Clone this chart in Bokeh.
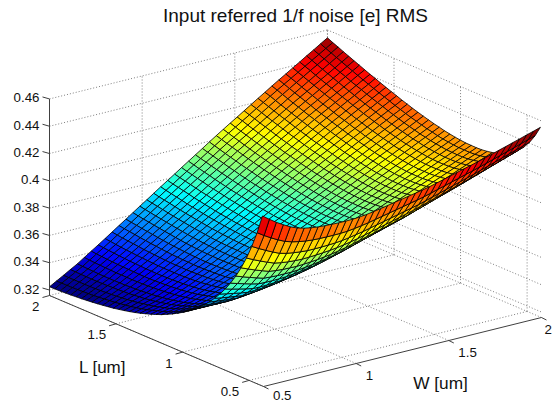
from bokeh.plotting import figure
from bokeh.models import Range1d, ColumnDataSource
from bokeh.core.properties import value
from bokeh.embed import file_html
from bokeh.resources import INLINE

TITLE = "Input referred 1/f noise [e] RMS"
X_LABEL = "W [um]"
Y_LABEL = "L [um]"
W_TICKS = [0.5, 1, 1.5, 2]
W_TICK_LABELS = ["0.5", "1", "1.5", "2"]
L_TICKS = [0.5, 1, 1.5, 2]
L_TICK_LABELS = ["0.5", "1", "1.5", "2"]
Z_TICKS = [0.32, 0.34, 0.36, 0.38, 0.40, 0.42, 0.44, 0.46]
Z_TICK_LABELS = ["0.32", "0.34", "0.36", "0.38", "0.4", "0.42", "0.44", "0.46"]
W_LIMITS = [0.5, 2.0]
L_LIMITS = [0.392, 2.0]
Z_LIMITS = [0.316, 0.46]

W_UM = [0.5, 0.5375, 0.575, 0.6125, 0.65, 0.6875, 0.725, 0.7625, 0.8, 0.8375, 0.875, 0.9125, 0.95, 0.9875,
        1.025, 1.0625, 1.1, 1.1375, 1.175, 1.2125, 1.25, 1.2875, 1.325, 1.3625, 1.4, 1.4375, 1.475, 1.5125,
        1.55, 1.5875, 1.625, 1.6625, 1.7, 1.7375, 1.775, 1.8125, 1.85, 1.8875, 1.925, 1.9625, 2.0]
L_UM = [0.40, 0.44, 0.48, 0.52, 0.56, 0.60, 0.64, 0.68, 0.72, 0.76, 0.80, 0.84, 0.88, 0.92, 0.96, 1.00,
        1.04, 1.08, 1.12, 1.16, 1.20, 1.24, 1.28, 1.32, 1.36, 1.40, 1.44, 1.48, 1.52, 1.56, 1.60, 1.64,
        1.68, 1.72, 1.76, 1.80, 1.84, 1.88, 1.92, 1.96, 2.00]

# Noise in units of 1e-4 e RMS; one row per L_UM entry, one column per W_UM entry.
# Hand-estimated from the surface's edges and colour bands in the picture.
NOISE_E4 = [
[4406,4369,4334,4304,4276,4255,4241,4231,4225,4221,4219,4217,4217,4218,4222,4228,4236,4245,4255,4265,4275,4285,4295,4305,4316,4330,4343,4357,4371,4385,4398,4412,4426,4441,4457,4472,4488,4503,4519,4534,4550],
[4267,4234,4204,4177,4153,4137,4126,4118,4113,4111,4110,4110,4111,4114,4121,4129,4138,4149,4160,4171,4182,4193,4204,4215,4227,4241,4256,4270,4285,4299,4314,4328,4343,4359,4375,4391,4407,4423,4440,4456,4472],
[4150,4122,4096,4071,4049,4036,4028,4022,4018,4018,4019,4021,4024,4029,4037,4047,4057,4069,4081,4093,4105,4117,4129,4141,4153,4168,4184,4199,4214,4230,4245,4261,4276,4293,4309,4326,4343,4359,4376,4392,4409],
[4048,4024,4001,3980,3961,3951,3945,3941,3939,3941,3944,3948,3953,3960,3968,3978,3989,4002,4015,4028,4041,4054,4067,4081,4094,4110,4126,4142,4158,4174,4190,4206,4222,4239,4256,4273,4290,4308,4325,4342,4359],
[3960,3939,3919,3901,3884,3877,3873,3871,3870,3873,3877,3882,3889,3897,3907,3918,3931,3945,3959,3973,3987,4001,4016,4030,4044,4061,4077,4094,4111,4128,4144,4161,4178,4196,4213,4231,4249,4266,4284,4301,4319],
[3883,3865,3848,3832,3817,3813,3811,3811,3811,3815,3821,3828,3836,3846,3857,3870,3883,3898,3913,3928,3943,3958,3973,3988,4003,4020,4038,4055,4073,4090,4107,4125,4142,4160,4178,4196,4215,4233,4251,4269,4287],
[3815,3799,3785,3771,3759,3757,3757,3758,3761,3767,3774,3782,3791,3802,3815,3828,3842,3858,3874,3890,3905,3921,3937,3952,3968,3986,4004,4022,4040,4058,4076,4094,4112,4131,4149,4168,4187,4206,4225,4243,4262],
[3755,3742,3730,3718,3708,3707,3709,3712,3716,3723,3731,3740,3751,3763,3777,3791,3807,3824,3840,3857,3874,3890,3907,3923,3940,3959,3977,3996,4014,4033,4052,4070,4089,4108,4127,4146,4165,4184,4203,4222,4241],
[3701,3691,3681,3672,3664,3665,3668,3673,3678,3686,3695,3705,3717,3730,3745,3760,3777,3794,3812,3829,3847,3864,3881,3899,3916,3935,3954,3973,3993,4012,4031,4050,4069,4089,4108,4128,4148,4167,4187,4206,4226],
[3654,3645,3637,3630,3623,3626,3630,3636,3644,3653,3663,3674,3687,3701,3717,3733,3751,3769,3787,3805,3823,3841,3860,3878,3896,3916,3936,3956,3975,3995,4015,4035,4055,4075,4095,4115,4135,4156,4176,4196,4216],
[3610,3604,3598,3593,3588,3592,3598,3605,3614,3624,3635,3648,3662,3677,3694,3712,3731,3750,3768,3787,3806,3825,3843,3862,3881,3901,3921,3942,3962,3982,4002,4023,4043,4064,4084,4105,4126,4146,4167,4187,4208],
[3571,3567,3563,3560,3557,3562,3569,3578,3588,3599,3611,3624,3639,3656,3674,3693,3712,3732,3751,3771,3790,3810,3829,3849,3868,3889,3910,3931,3952,3972,3993,4014,4035,4056,4077,4098,4119,4140,4161,4182,4203],
[3537,3534,3532,3530,3529,3535,3543,3554,3565,3577,3590,3604,3620,3638,3657,3676,3696,3716,3736,3757,3777,3797,3817,3838,3858,3880,3901,3923,3944,3966,3987,4009,4030,4051,4073,4094,4116,4137,4158,4180,4201],
[3506,3505,3504,3504,3504,3511,3521,3533,3546,3559,3573,3588,3605,3624,3644,3664,3684,3705,3726,3747,3768,3788,3809,3830,3851,3873,3895,3917,3939,3960,3982,4004,4026,4048,4070,4092,4114,4136,4158,4180,4202],
[3477,3478,3478,3480,3481,3490,3501,3514,3528,3542,3557,3573,3591,3611,3631,3652,3674,3696,3717,3739,3760,3782,3803,3825,3846,3868,3891,3913,3935,3958,3980,4003,4025,4047,4070,4092,4114,4136,4159,4181,4203],
[3451,3453,3456,3459,3462,3472,3484,3498,3513,3528,3544,3561,3580,3600,3621,3643,3665,3687,3709,3731,3754,3776,3798,3820,3842,3865,3888,3911,3934,3957,3979,4002,4025,4048,4070,4093,4116,4139,4161,4184,4207],
[3428,3431,3435,3440,3444,3456,3469,3484,3500,3516,3533,3551,3570,3591,3613,3636,3659,3682,3704,3727,3749,3772,3795,3817,3840,3863,3887,3910,3933,3957,3980,4003,4027,4050,4073,4096,4119,4143,4166,4189,4212],
[3406,3411,3417,3423,3429,3441,3456,3471,3488,3505,3523,3541,3561,3583,3606,3629,3653,3676,3700,3723,3746,3770,3793,3817,3840,3864,3888,3911,3935,3959,3983,4006,4030,4054,4077,4101,4125,4148,4172,4195,4219],
[3387,3393,3400,3408,3415,3429,3445,3461,3479,3497,3516,3535,3556,3579,3602,3626,3650,3674,3698,3721,3745,3769,3793,3816,3840,3864,3889,3913,3938,3962,3986,4011,4035,4059,4083,4107,4131,4154,4178,4202,4226],
[3368,3376,3385,3393,3402,3417,3434,3451,3470,3489,3508,3528,3550,3573,3598,3622,3647,3671,3696,3720,3745,3769,3794,3818,3843,3868,3892,3917,3941,3966,3991,4015,4040,4065,4089,4114,4138,4163,4187,4212,4236],
[3353,3362,3371,3381,3390,3406,3424,3443,3463,3482,3502,3523,3545,3570,3595,3621,3646,3671,3696,3721,3746,3771,3796,3821,3846,3871,3896,3921,3947,3972,3997,4022,4047,4072,4096,4121,4146,4171,4195,4220,4245],
[3338,3349,3359,3370,3381,3398,3417,3436,3457,3478,3499,3521,3544,3569,3594,3620,3646,3671,3697,3722,3748,3773,3799,3824,3850,3876,3901,3927,3952,3978,4004,4029,4055,4080,4105,4130,4155,4181,4206,4231,4256],
[3325,3337,3349,3361,3373,3391,3411,3431,3452,3474,3496,3519,3543,3569,3594,3620,3646,3672,3698,3724,3750,3777,3803,3829,3855,3881,3907,3933,3959,3985,4011,4037,4063,4089,4114,4140,4165,4191,4216,4242,4267],
[3312,3325,3338,3352,3365,3385,3405,3426,3448,3471,3494,3517,3542,3568,3595,3621,3648,3675,3701,3728,3754,3781,3807,3834,3860,3887,3913,3940,3966,3993,4019,4046,4072,4098,4124,4150,4176,4201,4227,4253,4279],
[3301,3315,3330,3344,3359,3379,3401,3422,3445,3469,3492,3516,3542,3569,3596,3623,3650,3677,3704,3731,3758,3786,3813,3840,3867,3894,3921,3948,3975,4002,4029,4056,4083,4109,4135,4161,4187,4213,4239,4265,4291],
[3291,3306,3322,3337,3353,3375,3397,3420,3443,3467,3491,3516,3543,3570,3598,3625,3653,3681,3708,3736,3764,3791,3819,3846,3874,3901,3928,3956,3983,4010,4037,4065,4092,4119,4145,4172,4199,4225,4252,4278,4305],
[3282,3298,3315,3331,3348,3371,3394,3417,3441,3466,3491,3517,3544,3572,3600,3629,3657,3685,3713,3741,3770,3798,3826,3854,3882,3910,3938,3965,3993,4021,4049,4076,4104,4131,4158,4184,4211,4238,4265,4291,4318],
[3274,3292,3309,3327,3345,3368,3392,3416,3441,3467,3493,3519,3546,3575,3603,3632,3661,3690,3718,3747,3775,3804,3833,3861,3890,3918,3946,3974,4003,4031,4059,4087,4115,4142,4169,4197,4224,4251,4279,4306,4333],
[3266,3285,3303,3322,3341,3365,3390,3415,3441,3467,3494,3521,3549,3578,3607,3637,3666,3695,3724,3753,3782,3811,3840,3869,3898,3927,3955,3984,4013,4041,4070,4098,4127,4155,4182,4209,4237,4264,4292,4320,4347],
[3260,3279,3299,3318,3338,3363,3388,3414,3441,3468,3496,3524,3552,3582,3612,3641,3671,3701,3730,3760,3790,3819,3849,3878,3908,3937,3966,3995,4023,4052,4081,4110,4139,4167,4195,4223,4251,4278,4306,4334,4362],
[3254,3275,3295,3316,3337,3362,3388,3415,3442,3470,3498,3527,3556,3586,3617,3647,3677,3707,3737,3767,3797,3827,3857,3887,3917,3946,3975,4005,4034,4063,4092,4122,4151,4179,4207,4236,4264,4292,4320,4349,4377],
[3249,3270,3291,3313,3334,3361,3388,3416,3444,3473,3502,3531,3561,3591,3622,3653,3683,3713,3744,3774,3805,3835,3865,3896,3926,3956,3986,4015,4045,4075,4105,4134,4164,4193,4221,4250,4279,4307,4336,4364,4393],
[3244,3267,3289,3312,3334,3362,3390,3418,3446,3476,3505,3535,3566,3597,3628,3659,3690,3721,3752,3783,3813,3844,3875,3906,3937,3967,3997,4027,4057,4087,4117,4147,4177,4206,4235,4264,4293,4321,4350,4379,4408],
[3240,3263,3286,3310,3333,3362,3391,3420,3449,3479,3510,3540,3572,3603,3634,3666,3697,3728,3759,3791,3822,3853,3884,3916,3947,3977,4008,4038,4069,4099,4129,4160,4190,4219,4248,4278,4307,4336,4365,4395,4424],
[3236,3260,3284,3309,3333,3362,3392,3421,3451,3482,3513,3545,3577,3609,3640,3672,3704,3736,3768,3799,3831,3863,3895,3926,3958,3989,4020,4050,4081,4112,4143,4173,4204,4234,4263,4293,4323,4352,4382,4411,4441],
[3233,3258,3283,3308,3333,3364,3394,3425,3455,3487,3519,3551,3583,3615,3647,3679,3711,3743,3775,3808,3840,3872,3904,3937,3969,4000,4031,4062,4094,4125,4156,4187,4218,4248,4278,4308,4338,4367,4397,4427,4457],
[3230,3256,3282,3308,3334,3365,3396,3427,3458,3491,3523,3556,3589,3622,3654,3687,3720,3753,3785,3818,3851,3883,3916,3948,3981,4012,4044,4075,4107,4138,4169,4201,4232,4262,4292,4323,4353,4383,4413,4444,4474],
[3228,3255,3282,3309,3336,3368,3399,3431,3462,3495,3529,3562,3595,3628,3662,3695,3728,3761,3794,3827,3860,3893,3926,3959,3992,4024,4056,4087,4119,4151,4183,4214,4246,4277,4307,4338,4368,4399,4429,4460,4490],
[3226,3254,3282,3309,3337,3369,3402,3434,3466,3500,3534,3568,3601,3635,3669,3702,3736,3770,3803,3837,3870,3904,3937,3971,4004,4036,4068,4100,4133,4165,4197,4229,4261,4292,4323,4354,4385,4415,4446,4477,4508],
[3225,3254,3282,3311,3339,3372,3405,3438,3471,3505,3539,3573,3608,3642,3676,3710,3744,3778,3812,3846,3880,3914,3948,3982,4016,4049,4081,4114,4146,4179,4211,4244,4276,4307,4338,4369,4400,4431,4462,4493,4524],
[3224,3253,3282,3312,3341,3375,3409,3442,3476,3511,3546,3580,3615,3650,3684,3719,3754,3788,3822,3857,3891,3925,3959,3994,4028,4061,4094,4126,4159,4192,4225,4257,4290,4322,4353,4385,4416,4448,4479,4511,4542],
]


def project(w, l, z):
    """Orthographic view of the 3-D axes onto page pixels."""
    x = 49 + (w - 0.5) * 185.3 + (2 - l) * 133.1
    y = 295 - (w - 0.5) * 46 + (2 - l) * 56.6 - (z - Z_LIMITS[0]) * 1365
    return x, y


def jet(t):
    k = min(63, max(0, int(t * 64)))
    v = (k + 0.5) / 64
    def ch(c):
        return int(round(255 * max(0.0, min(1.0, 1.5 - abs(4 * v - c)))))
    return "#%02x%02x%02x" % (ch(3), ch(2), ch(1))


p = figure(width=553, height=404, output_backend="svg", toolbar_location=None,
           x_range=Range1d(0, 553), y_range=Range1d(404, 0),
           min_border=0, outline_line_color=None, background_fill_color="white")
p.xaxis.visible = False
p.yaxis.visible = False
p.grid.visible = False

w0, w1 = W_LIMITS
l0, l1 = L_LIMITS
z0, z1 = Z_LIMITS

# dotted walls and floor
gx, gy = [], []
def seg(a, b):
    xa, ya = project(*a)
    xb, yb = project(*b)
    gx.append([xa, xb])
    gy.append([ya, yb])
for w in W_TICKS:
    seg((w, l0, z0), (w, l1, z0))
    seg((w, l1, z0), (w, l1, z1))
for l in L_TICKS:
    seg((w0, l, z0), (w1, l, z0))
    seg((w1, l, z0), (w1, l, z1))
for z in Z_TICKS:
    seg((w0, l1, z), (w1, l1, z))
    seg((w1, l1, z), (w1, l0, z))
p.multi_line(gx, gy, line_color="#7f7f7f", line_width=1, line_dash="1 2")

# surface, painted from the far corner to the near one
cmin = min(min(r) for r in NOISE_E4)
cmax = max(max(r) for r in NOISE_E4)
xs, ys, fills = [], [], []
for j in range(len(L_UM) - 2, -1, -1):
    for i in range(len(W_UM) - 2, -1, -1):
        corners = [(i, j), (i + 1, j), (i + 1, j + 1), (i, j + 1)]
        pts = [project(W_UM[a], L_UM[b], NOISE_E4[b][a] / 1e4) for a, b in corners]
        xs.append([q[0] for q in pts])
        ys.append([q[1] for q in pts])
        fills.append(jet((NOISE_E4[j][i] - cmin) / (cmax - cmin)))
p.patches(xs="xs", ys="ys", fill_color="fills", line_color="#000000", line_width=1, line_alpha=0.8,
          source=ColumnDataSource(dict(xs=xs, ys=ys, fills=fills)))

# solid axes and tick marks
ax, ay = [], []
def aseg(a, b, dx=0, dy=0):
    xa, ya = project(*a)
    if b is None:
        ax.append([xa, xa + dx])
        ay.append([ya, ya + dy])
    else:
        xb, yb = project(*b)
        ax.append([xa, xb])
        ay.append([ya, yb])
aseg((w0, l1, z0), (w0, l1, z1))
aseg((w0, l1, z0), (w0, l0, z0))
aseg((w0, l0, z0), (w1, l0, z0))
for z in Z_TICKS:
    aseg((w0, l1, z), None, -7, -2)
for l in L_TICKS:
    aseg((w0, l, z0), None, -7, 2)
for w in W_TICKS:
    aseg((w, l0, z0), None, 5, 2.5)
p.multi_line(ax, ay, line_color="#404040", line_width=1)

FONT = value("Liberation Sans")
def texts(points, labels, align, dxs, dys, size):
    for q, t, dx, dy in zip(points, labels, dxs, dys):
        p.text(x=[q[0]], y=[q[1]], text=[t],
               text_font=FONT, text_font_size=size, text_color="#111111",
               text_align=align, text_baseline="middle", x_offset=dx, y_offset=dy)

texts([project(w0, l1, z) for z in Z_TICKS], Z_TICK_LABELS, "right", [-10] * 8, [-1] * 8, "13.3px")
texts([project(w0, l, z0) for l in L_TICKS], L_TICK_LABELS, "right", [-10] * 4, [11] * 4, "13.3px")
texts([project(w, l0, z0) for w in W_TICKS], W_TICK_LABELS, "left", [9.5, 9.5, 9.5, 3], [9, 11.5, 11.5, 11.5], "13.3px")
texts([(295, 15)], [TITLE], "center", [0], [0], "19px")
texts([(102, 367)], [Y_LABEL], "center", [0], [0], "17px")
texts([(440, 382)], [X_LABEL], "center", [0], [0], "17.3px")

open("out.html", "w").write(file_html(p, INLINE))
